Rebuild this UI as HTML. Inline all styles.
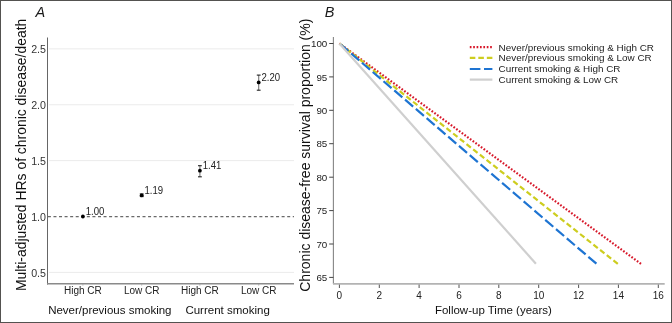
<!DOCTYPE html>
<html><head><meta charset="utf-8"><style>
html,body{margin:0;padding:0;background:#fff;}
svg{display:block;font-family:"Liberation Sans",sans-serif;will-change:transform;}
</style></head><body>
<svg width="672" height="323" viewBox="0 0 672 323">
<rect x="0.5" y="0.5" width="671" height="322" fill="#fff" stroke="#535250" stroke-width="1"/>
<text transform="translate(35.40,16.50) scale(1,1.04)" font-size="14.5" fill="#1a1a1a" font-style="italic">A</text>
<line x1="49" y1="272.38" x2="294" y2="272.38" stroke="#ebebeb" stroke-width="1"/>
<line x1="49" y1="160.62" x2="294" y2="160.62" stroke="#ebebeb" stroke-width="1"/>
<line x1="49" y1="104.75" x2="294" y2="104.75" stroke="#ebebeb" stroke-width="1"/>
<line x1="49" y1="48.88" x2="294" y2="48.88" stroke="#ebebeb" stroke-width="1"/>
<line x1="47.9" y1="216.6" x2="294" y2="216.6" stroke="#6a6a6a" stroke-width="1.2" stroke-dasharray="3 2.565"/>
<line x1="47.5" y1="37.5" x2="47.5" y2="284.5" stroke="#666" stroke-width="1"/>
<line x1="47" y1="283.75" x2="294" y2="283.75" stroke="#8a8a8a" stroke-width="1.5"/>
<text transform="translate(46.00,276.57) scale(1,1.02)" font-size="10.7" text-anchor="end" fill="#333">0.5</text>
<text transform="translate(46.00,220.70) scale(1,1.02)" font-size="10.7" text-anchor="end" fill="#333">1.0</text>
<text transform="translate(46.00,164.82) scale(1,1.02)" font-size="10.7" text-anchor="end" fill="#333">1.5</text>
<text transform="translate(46.00,108.95) scale(1,1.02)" font-size="10.7" text-anchor="end" fill="#333">2.0</text>
<text transform="translate(46.00,53.08) scale(1,1.02)" font-size="10.7" text-anchor="end" fill="#333">2.5</text>
<line x1="82.9" y1="284" x2="82.9" y2="285.5" stroke="#aaa" stroke-width="1"/>
<line x1="141.7" y1="284" x2="141.7" y2="285.5" stroke="#aaa" stroke-width="1"/>
<line x1="199.9" y1="284" x2="199.9" y2="285.5" stroke="#aaa" stroke-width="1"/>
<line x1="258.7" y1="284" x2="258.7" y2="285.5" stroke="#aaa" stroke-width="1"/>
<circle cx="82.9" cy="216.5" r="1.9" fill="#000"/>
<text transform="translate(85.70,215.20) scale(1,1.06)" font-size="9.6" fill="#222">1.00</text>
<line x1="141.7" y1="193.9" x2="141.7" y2="196.6" stroke="#777" stroke-width="1.1"/>
<line x1="139.79999999999998" y1="193.9" x2="143.6" y2="193.9" stroke="#222" stroke-width="1.1"/>
<line x1="139.79999999999998" y1="196.6" x2="143.6" y2="196.6" stroke="#222" stroke-width="1.1"/>
<circle cx="141.7" cy="195.3" r="1.9" fill="#000"/>
<text transform="translate(144.50,193.97) scale(1,1.06)" font-size="9.6" fill="#222">1.19</text>
<line x1="199.9" y1="165.7" x2="199.9" y2="176.8" stroke="#777" stroke-width="1.1"/>
<line x1="198.0" y1="165.7" x2="201.8" y2="165.7" stroke="#222" stroke-width="1.1"/>
<line x1="198.0" y1="176.8" x2="201.8" y2="176.8" stroke="#222" stroke-width="1.1"/>
<circle cx="199.9" cy="170.7" r="1.9" fill="#000"/>
<text transform="translate(202.70,169.38) scale(1,1.06)" font-size="9.6" fill="#222">1.41</text>
<line x1="258.7" y1="75.1" x2="258.7" y2="90.2" stroke="#777" stroke-width="1.1"/>
<line x1="256.8" y1="75.1" x2="260.59999999999997" y2="75.1" stroke="#222" stroke-width="1.1"/>
<line x1="256.8" y1="90.2" x2="260.59999999999997" y2="90.2" stroke="#222" stroke-width="1.1"/>
<circle cx="258.7" cy="82.4" r="1.9" fill="#000"/>
<text transform="translate(261.50,81.10) scale(1,1.06)" font-size="9.6" fill="#222">2.20</text>
<text transform="translate(82.90,294.20)" font-size="10" text-anchor="middle" fill="#222">High CR</text>
<text transform="translate(141.70,294.20)" font-size="10" text-anchor="middle" fill="#222">Low CR</text>
<text transform="translate(199.90,294.20)" font-size="10" text-anchor="middle" fill="#222">High CR</text>
<text transform="translate(258.70,294.20)" font-size="10" text-anchor="middle" fill="#222">Low CR</text>
<text transform="translate(109.80,313.90)" font-size="11.5" text-anchor="middle" fill="#111">Never/previous smoking</text>
<text transform="translate(227.60,313.90)" font-size="11.5" text-anchor="middle" fill="#111">Current smoking</text>
<text transform="translate(25.9,154.9) rotate(-90)" font-size="13.93" text-anchor="middle" fill="#111">Multi-adjusted HRs of chronic disease/death</text>
<text transform="translate(324.70,16.50) scale(1,1.04)" font-size="14.5" fill="#1a1a1a" font-style="italic">B</text>
<line x1="333.4" y1="37" x2="333.4" y2="284" stroke="#858585" stroke-width="1.1"/>
<line x1="329.2" y1="277.4" x2="333.4" y2="277.4" stroke="#444" stroke-width="1"/>
<text transform="translate(327.30,281.10)" font-size="9.8" text-anchor="end" fill="#222">65</text>
<line x1="329.2" y1="244.0" x2="333.4" y2="244.0" stroke="#444" stroke-width="1"/>
<text transform="translate(327.30,247.69)" font-size="9.8" text-anchor="end" fill="#222">70</text>
<line x1="329.2" y1="210.6" x2="333.4" y2="210.6" stroke="#444" stroke-width="1"/>
<text transform="translate(327.30,214.27)" font-size="9.8" text-anchor="end" fill="#222">75</text>
<line x1="329.2" y1="177.2" x2="333.4" y2="177.2" stroke="#444" stroke-width="1"/>
<text transform="translate(327.30,180.86)" font-size="9.8" text-anchor="end" fill="#222">80</text>
<line x1="329.2" y1="143.7" x2="333.4" y2="143.7" stroke="#444" stroke-width="1"/>
<text transform="translate(327.30,147.44)" font-size="9.8" text-anchor="end" fill="#222">85</text>
<line x1="329.2" y1="110.3" x2="333.4" y2="110.3" stroke="#444" stroke-width="1"/>
<text transform="translate(327.30,114.03)" font-size="9.8" text-anchor="end" fill="#222">90</text>
<line x1="329.2" y1="76.9" x2="333.4" y2="76.9" stroke="#444" stroke-width="1"/>
<text transform="translate(327.30,80.61)" font-size="9.8" text-anchor="end" fill="#222">95</text>
<line x1="329.2" y1="43.5" x2="333.4" y2="43.5" stroke="#444" stroke-width="1"/>
<text transform="translate(327.30,47.20)" font-size="9.8" text-anchor="end" fill="#222">100</text>
<line x1="333" y1="283.9" x2="664.7" y2="283.9" stroke="#b3b3b3" stroke-width="1.8"/>
<line x1="339.4" y1="284.6" x2="339.4" y2="288" stroke="#555" stroke-width="1"/>
<text transform="translate(339.40,298.80)" font-size="10" text-anchor="middle" fill="#222">0</text>
<line x1="379.3" y1="284.6" x2="379.3" y2="288" stroke="#555" stroke-width="1"/>
<text transform="translate(379.26,298.80)" font-size="10" text-anchor="middle" fill="#222">2</text>
<line x1="419.1" y1="284.6" x2="419.1" y2="288" stroke="#555" stroke-width="1"/>
<text transform="translate(419.12,298.80)" font-size="10" text-anchor="middle" fill="#222">4</text>
<line x1="459.0" y1="284.6" x2="459.0" y2="288" stroke="#555" stroke-width="1"/>
<text transform="translate(458.98,298.80)" font-size="10" text-anchor="middle" fill="#222">6</text>
<line x1="498.8" y1="284.6" x2="498.8" y2="288" stroke="#555" stroke-width="1"/>
<text transform="translate(498.84,298.80)" font-size="10" text-anchor="middle" fill="#222">8</text>
<line x1="538.7" y1="284.6" x2="538.7" y2="288" stroke="#555" stroke-width="1"/>
<text transform="translate(538.70,298.80)" font-size="10" text-anchor="middle" fill="#222">10</text>
<line x1="578.6" y1="284.6" x2="578.6" y2="288" stroke="#555" stroke-width="1"/>
<text transform="translate(578.56,298.80)" font-size="10" text-anchor="middle" fill="#222">12</text>
<line x1="618.4" y1="284.6" x2="618.4" y2="288" stroke="#555" stroke-width="1"/>
<text transform="translate(618.42,298.80)" font-size="10" text-anchor="middle" fill="#222">14</text>
<line x1="658.3" y1="284.6" x2="658.3" y2="288" stroke="#555" stroke-width="1"/>
<text transform="translate(658.28,298.80)" font-size="10" text-anchor="middle" fill="#222">16</text>
<text transform="translate(493.40,314.40)" font-size="11.5" text-anchor="middle" fill="#111">Follow-up Time (years)</text>
<text transform="translate(310.4,155.2) rotate(-90)" font-size="14" text-anchor="middle" fill="#111">Chronic disease-free survival proportion (%)</text>
<line x1="641.0" y1="263.8" x2="339.4" y2="43.4" stroke="#d7182a" stroke-width="2.2" stroke-dasharray="1.7 1.69"/>
<line x1="617.8" y1="263.9" x2="339.4" y2="43.4" stroke="#cdcd1f" stroke-width="2.2" stroke-dasharray="5.55 2.97"/>
<line x1="596.4" y1="263.7" x2="339.4" y2="43.4" stroke="#1e74d2" stroke-width="2.2" stroke-dasharray="10.6 3.6"/>
<line x1="535.9" y1="263.7" x2="339.4" y2="43.4" stroke="#cfcfcf" stroke-width="2.2"/>
<line x1="469.8" y1="47.2" x2="492.4" y2="47.2" stroke="#d7182a" stroke-width="2.2" stroke-dasharray="1.7 1.69"/>
<text transform="translate(498.60,50.60)" font-size="9.9" fill="#222">Never/previous smoking &amp; High CR</text>
<line x1="469.8" y1="57.9" x2="492.4" y2="57.9" stroke="#cdcd1f" stroke-width="2.2" stroke-dasharray="5.55 2.97"/>
<text transform="translate(498.60,61.30)" font-size="9.9" fill="#222">Never/previous smoking &amp; Low CR</text>
<line x1="469.8" y1="69" x2="492.4" y2="69" stroke="#1e74d2" stroke-width="2.2" stroke-dasharray="10.6 3.6"/>
<text transform="translate(498.60,72.40)" font-size="9.9" fill="#222">Current smoking &amp; High CR</text>
<line x1="469.8" y1="79.6" x2="492.4" y2="79.6" stroke="#cfcfcf" stroke-width="2.2"/>
<text transform="translate(498.60,83.00)" font-size="9.9" fill="#222">Current smoking &amp; Low CR</text>
</svg>
</body></html>
